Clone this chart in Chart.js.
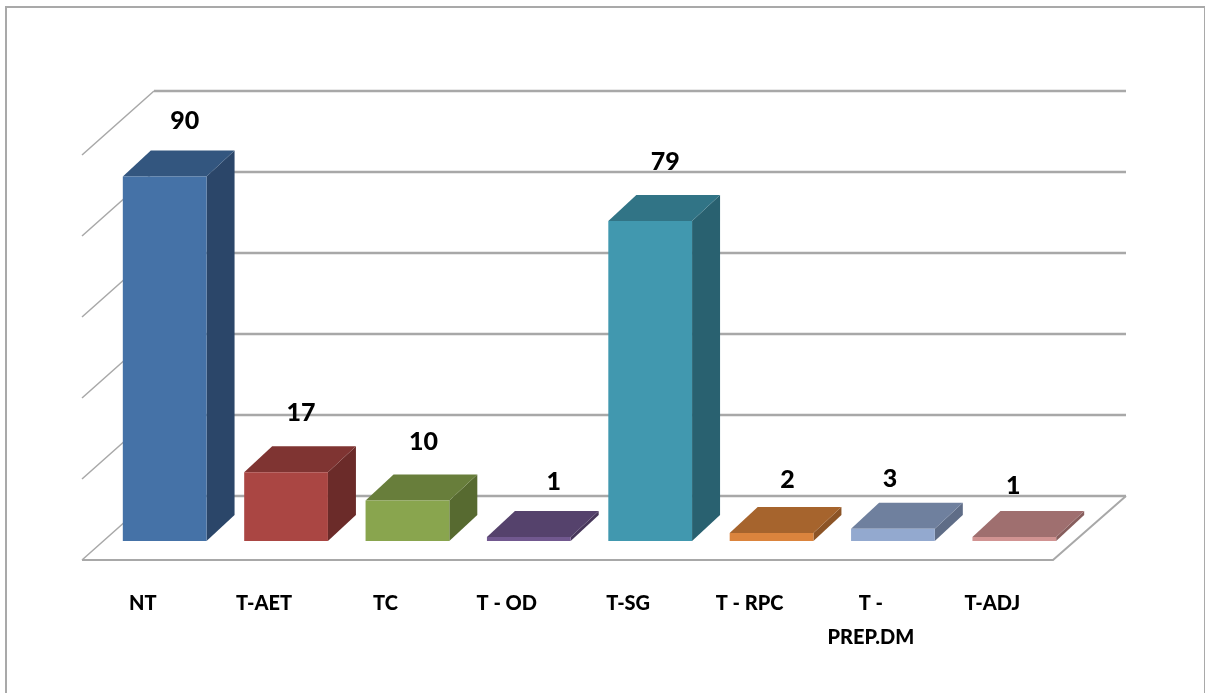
<!DOCTYPE html>
<html lang="en">
<head>
    <meta charset="UTF-8">
    <title>Chart</title>
    <script src="https://cdn.jsdelivr.net/npm/chart.js@4"></script>
    <style>
        html, body { margin: 0; padding: 0; background: #fff; overflow: hidden; }
        #frame { position: absolute; left: 5px; top: 6px; width: 1197px; height: 700px; border: 2px solid #a9a9a9; }
        #myChart { position: absolute; left: 0; top: 0; }
    </style>
</head>
<body>
<div id="frame"></div>
<canvas id="myChart" width="1205" height="693"></canvas>

<script>
    var categories = ["NT", "T-AET", "TC", "T - OD", "T-SG", "T - RPC", ["T -", "PREP.DM"], "T-ADJ"];
    var values = [90, 17, 10, 1, 79, 2, 3, 1];
    var wallTicks = [0, 20, 40, 60, 80, 100];

    var frontColors = ["#4572a7", "#aa4643", "#89a54e", "#71588f", "#4198af", "#db843d", "#93a9cf", "#d19392"];
    var topColors = ["#33567f", "#7f3432", "#687e3b", "#55426c", "#317486", "#a6642d", "#6f809e", "#9f6f6f"];
    var sideColors = ["#2b4669", "#6b2b29", "#576a30", "#47375a", "#296170", "#8c5426", "#5f6d87", "#875e5d"];

    // hand placed value labels in the original, offset from the top of each bar
    var labelNudge = [[20, -56], [15, -59], [16, -59], [25, -55], [15, -59], [16, -53], [-3, -50], [-1, -51]];

    var fontName = "Lato, 'Liberation Sans', sans-serif";

    var barShift = 22;      // bars stand part way back on the floor
    var barDepthX = 28, barDepthY = 26;
    var wallDepthX = 72, wallDepthY = 64;

    function poly(ctx, pts, color) {
        ctx.fillStyle = color;
        ctx.beginPath();
        ctx.moveTo(pts[0][0], pts[0][1]);
        for (var i = 1; i < pts.length; i++) ctx.lineTo(pts[i][0], pts[i][1]);
        ctx.closePath();
        ctx.fill();
    }

    var wallPlugin = {
        id: "wall",
        beforeDatasetsDraw: function (chart) {
            var ctx = chart.ctx, area = chart.chartArea, wall = chart.scales.yWall;
            var backLeft = area.left + wallDepthX;
            var backRight = area.right + wallDepthX + 1;

            ctx.save();
            wallTicks.forEach(function (v) {
                var y = wall.getPixelForValue(v);
                ctx.strokeStyle = "#a8a8a8";
                ctx.lineWidth = 2.5;
                ctx.beginPath();
                ctx.moveTo(backLeft, y);
                ctx.lineTo(backRight, y);
                ctx.stroke();
                ctx.lineWidth = 1.5;
                ctx.beginPath();
                ctx.moveTo(area.left, y + wallDepthY);
                ctx.lineTo(backLeft, y);
                ctx.stroke();
            });
            // floor edge
            var floorY = wall.getPixelForValue(0);
            ctx.strokeStyle = "#a8a8a8";
            ctx.lineWidth = 2;
            ctx.beginPath();
            ctx.moveTo(area.left, floorY + wallDepthY);
            ctx.lineTo(area.right, floorY + wallDepthY);
            ctx.lineTo(backRight, floorY);
            ctx.stroke();
            ctx.restore();

            // the 3d faces, front faces are the real bars drawn by the library
            ctx.save();
            ctx.translate(barShift, 0);
            chart.getDatasetMeta(0).data.forEach(function (bar, i) {
                var l = bar.x - bar.width / 2, r = bar.x + bar.width / 2;
                poly(ctx, [[r, bar.y], [r + barDepthX, bar.y - barDepthY], [r + barDepthX, bar.base - barDepthY], [r, bar.base]], sideColors[i]);
                poly(ctx, [[l, bar.y], [l + barDepthX, bar.y - barDepthY], [r + barDepthX, bar.y - barDepthY], [r, bar.y]], topColors[i]);
            });
        },
        afterDatasetsDraw: function (chart) {
            var ctx = chart.ctx;
            ctx.fillStyle = "#000";
            ctx.font = "900 25px " + fontName;
            ctx.textAlign = "center";
            ctx.textBaseline = "middle";
            chart.getDatasetMeta(0).data.forEach(function (bar, i) {
                ctx.fillText(String(values[i]), bar.x + labelNudge[i][0], bar.y + labelNudge[i][1]);
            });
            ctx.restore();
        }
    };

    new Chart(document.getElementById("myChart").getContext("2d"), {
        type: "bar",
        data: {
            labels: categories,
            datasets: [{
                data: values,
                yAxisID: "y",
                backgroundColor: frontColors,
                barPercentage: 0.69,
                categoryPercentage: 1,
                clip: false
            }]
        },
        options: {
            responsive: false,
            animation: false,
            layout: { padding: { left: 82, right: 152, top: 91, bottom: 0 } },
            plugins: { legend: { display: false }, tooltip: { enabled: false } },
            scales: {
                x: {
                    grid: { display: false, drawTicks: false },
                    border: { display: false },
                    afterFit: function (scale) { scale.height = 133; },
                    ticks: {
                        autoSkip: false,
                        maxRotation: 0,
                        padding: 27,
                        color: "#000",
                        font: { family: fontName, weight: "900", size: 20, lineHeight: 1.7 }
                    }
                },
                // bar values, zero sits part way back on the floor
                y: { display: false, min: -4.69, max: 111.11 },
                // back wall lines, zero sits on the back edge of the floor
                yWall: { display: false, min: -15.8, max: 100 }
            }
        },
        plugins: [wallPlugin]
    });
</script>
</body>
</html>
